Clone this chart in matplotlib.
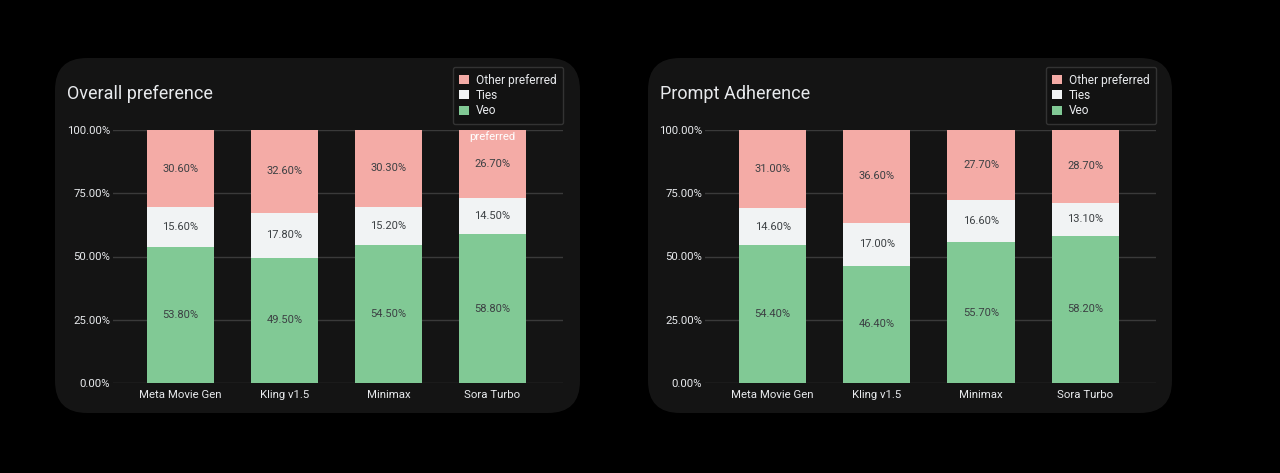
import numpy as np
import matplotlib
matplotlib.use('Agg')
import matplotlib.pyplot as plt
from matplotlib.patches import FancyBboxPatch, Patch

plt.rcParams['font.family'] = ['Roboto', 'DejaVu Sans']

# data
models = ['Meta Movie Gen', 'Kling v1.5', 'Minimax', 'Sora Turbo']
series = ['Other preferred', 'Ties', 'Veo']

overall_veo = [53.8, 49.5, 54.5, 58.8]
overall_ties = [15.6, 17.8, 15.2, 14.5]
overall_other = [30.6, 32.6, 30.3, 26.7]

prompt_veo = [54.4, 46.4, 55.7, 58.2]
prompt_ties = [14.6, 17.0, 16.6, 13.1]
prompt_other = [31.0, 36.6, 27.7, 28.7]

yticks = [0, 25, 50, 75, 100]
ytick_labels = ['0.00%', '25.00%', '50.00%', '75.00%', '100.00%']

# colours
col_other = '#f4aba6'
col_ties = '#f1f3f4'
col_veo = '#81c995'
panel_col = '#141414'
text_dark = '#3c4043'
text_light = '#e8eaed'
grid_col = '#3a3a3a'

W, H = 1280, 473
fig = plt.figure(figsize=(W / 100, H / 100), dpi=100)
fig.patch.set_facecolor('black')


def px(x0, y0, w, h):
    # pixel box (top-left origin) -> figure fraction
    return [x0 / W, 1 - (y0 + h) / H, w / W, h / H]


def panel(x0, y0, x1, y1):
    b = px(x0, y0, x1 - x0, y1 - y0)
    p = FancyBboxPatch((b[0], b[1]), b[2], b[3],
                       boxstyle='round,pad=0,rounding_size=0.025',
                       mutation_aspect=W / H,
                       transform=fig.transFigure, facecolor=panel_col,
                       edgecolor='none', zorder=-5)
    fig.patches.append(p)


def draw_chart(ax_box, title, title_xy, legend_xy, veo, ties, other, extra=None):
    ax = fig.add_axes(px(*ax_box))
    ax.set_facecolor('none')
    x = np.arange(len(models))
    w = 0.645
    ax.bar(x, veo, width=w, color=col_veo, zorder=3)
    ax.bar(x, ties, width=w, bottom=veo, color=col_ties, zorder=3)
    bottom2 = np.array(veo) + np.array(ties)
    ax.bar(x, other, width=w, bottom=bottom2, color=col_other, zorder=3)

    for i in range(len(models)):
        ax.text(x[i], veo[i] / 2, f'{veo[i]:.2f}%', ha='center', va='center',
                fontsize=8, color=text_dark, zorder=4)
        ax.text(x[i], veo[i] + ties[i] / 2, f'{ties[i]:.2f}%', ha='center',
                va='center', fontsize=8, color=text_dark, zorder=4)
        ax.text(x[i], bottom2[i] + other[i] / 2, f'{other[i]:.2f}%', ha='center',
                va='center', fontsize=8, color=text_dark, zorder=4)

    ax.set_xlim(-0.65, 3.68)
    ax.set_ylim(0, 100)
    ax.set_yticks(yticks)
    ax.set_yticklabels(ytick_labels)
    ax.set_xticks(x)
    ax.set_xticklabels(models)
    ax.tick_params(length=0, colors=text_light, labelsize=8.2)
    ax.tick_params(axis='x', pad=5)
    ax.tick_params(axis='y', pad=2)
    ax.grid(axis='y', color=grid_col, linewidth=1, zorder=1)
    for s in ax.spines.values():
        s.set_visible(False)

    fig.text(title_xy[0] / W, 1 - title_xy[1] / H, title, fontsize=13,
             color=text_light, ha='left', va='center')

    handles = [Patch(facecolor=col_other), Patch(facecolor=col_ties),
               Patch(facecolor=col_veo)]
    leg = fig.legend(handles, series, loc='upper right',
                     bbox_to_anchor=(legend_xy[0] / W, 1 - legend_xy[1] / H),
                     bbox_transform=fig.transFigure, fontsize=8.6,
                     handlelength=0.8, handleheight=0.8, handletextpad=0.6,
                     labelspacing=0.2, borderpad=0.55, borderaxespad=0,
                     frameon=True, facecolor='#121212', edgecolor='#3c3c3c',
                     labelcolor=text_light, fancybox=True)
    leg.get_frame().set_linewidth(1)

    if extra:
        ax.text(3, 97.5, extra, ha='center', va='center', fontsize=8.2,
                color='white', zorder=5)
    return ax


panel(55, 58, 580, 413)
panel(648, 58, 1172, 413)

draw_chart((113, 130, 450, 253), 'Overall preference', (67, 94), (563, 67),
           overall_veo, overall_ties, overall_other, extra='preferred')
draw_chart((705, 130, 451, 253), 'Prompt Adherence', (660, 94), (1156, 67),
           prompt_veo, prompt_ties, prompt_other)

fig.savefig('out.png', dpi=100, facecolor=fig.get_facecolor())
